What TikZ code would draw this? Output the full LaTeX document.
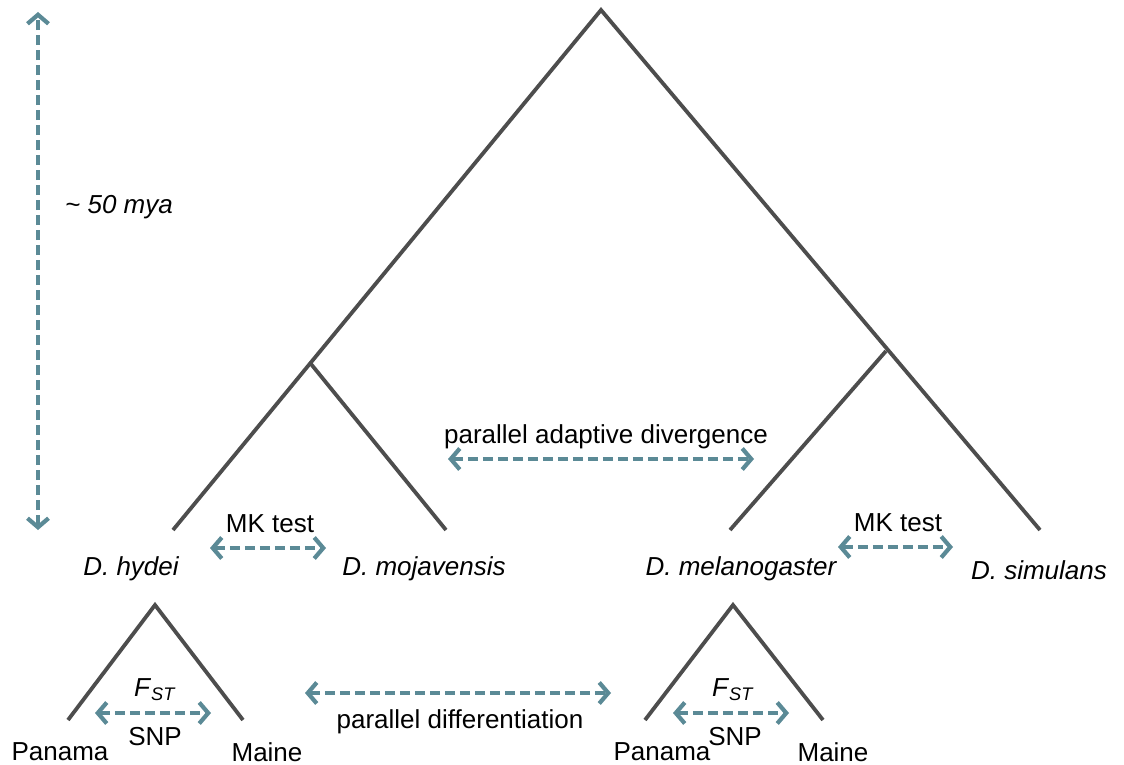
\documentclass[tikz,border=0pt]{standalone}
\usepackage{fontspec}
\setmainfont{Liberation Sans}
\usetikzlibrary{arrows.meta}
\definecolor{tealc}{HTML}{5B8A96}
\definecolor{treec}{HTML}{4D4D4D}
\tikzset{
  treeline/.style={draw=treec, line width=3.8pt},
  dasharrow/.style={draw=tealc, line width=4pt, dash pattern=on 10pt off 5pt,
    {Straight Barb[length=9pt,width=21pt,line width=4.2pt]}-{Straight Barb[length=9pt,width=21pt,line width=4.2pt]}},
  lbl/.style={font=\fontsize{26}{30}\selectfont, inner sep=0pt, text=black},
  ilbl/.style={lbl, font=\fontsize{26}{30}\selectfont\itshape},
}
\begin{document}
\begin{tikzpicture}[x=1pt,y=-1pt]
\useasboundingbox (0,0) rectangle (1124,765);
% tree
\coordinate (root) at (601,10);
\coordinate (lj) at (311,364);
\coordinate (rj) at (886,351);
\coordinate (hyd) at (173,530);
\coordinate (moj) at (446,530);
\coordinate (mel) at (730,530);
\coordinate (sim) at (1040,530);
\draw[treeline] (hyd) -- (root) -- (sim);
\draw[treeline] (lj) -- (moj);
\draw[treeline] (rj) -- (mel);
% small triangles
\coordinate (lt) at (155,605);
\coordinate (ltl) at (68,720);
\coordinate (ltr) at (243,720);
\coordinate (rt) at (733,605);
\coordinate (rtl) at (645,720);
\coordinate (rtr) at (823,720);
\draw[treeline] (ltl) -- (lt) -- (ltr);
\draw[treeline] (rtl) -- (rt) -- (rtr);
% species labels
\node[ilbl] (Lhyd) at (131,569) {D. hydei};
\node[ilbl] (Lmoj) at (424,569) {D. mojavensis};
\node[ilbl] (Lmel) at (741,569) {D. melanogaster};
\node[ilbl] (Lsim) at (1039,570) {D. simulans};
% time arrow
\coordinate (ttop) at (38,12);
\coordinate (tbot) at (38,530);
\draw[dasharrow] (tbot) -- (ttop);
\node[ilbl, anchor=west] (mya) at (65,207) {\char`\~{} 50 mya};
% MK tests
\node[lbl] (mk1) at (270,524) {MK test};
\coordinate (mk1a) at (210,548);
\coordinate (mk1b) at (326,548);
\draw[dasharrow] (mk1a) -- (mk1b);
\node[lbl] (mk2) at (898,523) {MK test};
\coordinate (mk2a) at (838,547);
\coordinate (mk2b) at (953,547);
\draw[dasharrow] (mk2a) -- (mk2b);
% parallel adaptive divergence
\node[lbl] (pad) at (606,437) {parallel adaptive divergence};
\coordinate (pada) at (448,459);
\coordinate (padb) at (754,459);
\draw[dasharrow] (pada) -- (padb);
% parallel differentiation
\node[lbl] (pdf) at (460,722) {parallel differentiation};
\coordinate (pdfa) at (305,693);
\coordinate (pdfb) at (611,693);
\draw[dasharrow] (pdfa) -- (pdfb);
% populations left
\node[lbl] (fst1) at (155,690) {\textit{F}\textsubscript{\textit{ST}}};
\coordinate (f1a) at (95,713);
\coordinate (f1b) at (211,713);
\draw[dasharrow] (f1a) -- (f1b);
\node[lbl] (snp1) at (155,737) {SNP};
\node[lbl] (pan1) at (60,752) {Panama};
\node[lbl] (mai1) at (267,752) {Maine};
% populations right
\node[lbl] (fst2) at (733,690) {\textit{F}\textsubscript{\textit{ST}}};
\coordinate (f2a) at (673,713);
\coordinate (f2b) at (789,713);
\draw[dasharrow] (f2a) -- (f2b);
\node[lbl] (snp2) at (735,737) {SNP};
\node[lbl] (pan2) at (662,752) {Panama};
\node[lbl] (mai2) at (833,752) {Maine};
\end{tikzpicture}
\end{document}
